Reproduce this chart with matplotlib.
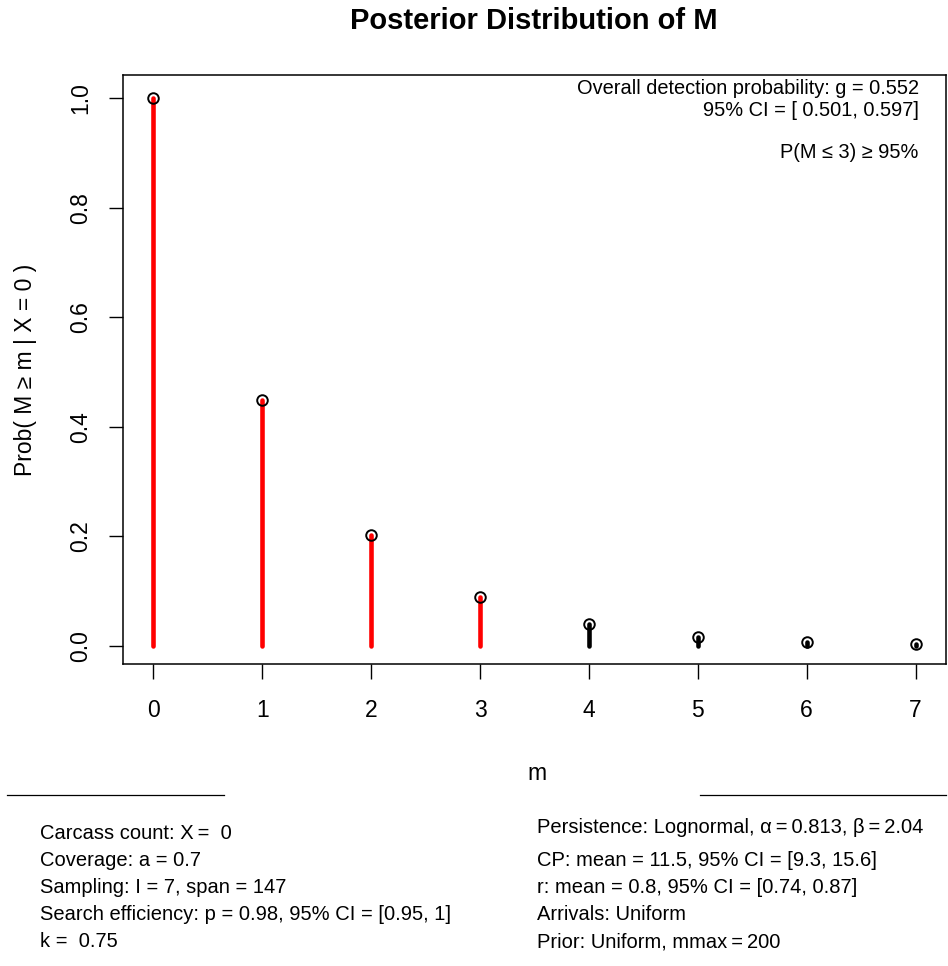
import matplotlib
matplotlib.use("Agg")
import matplotlib.pyplot as plt
from matplotlib.lines import Line2D

m_vals = [0, 1, 2, 3, 4, 5, 6, 7]
prob_ge = [1.0, 0.448, 0.202, 0.090, 0.040, 0.017, 0.008, 0.003]
red_upto = 3
x_ticks = [0, 1, 2, 3, 4, 5, 6, 7]
y_ticks = [0.0, 0.2, 0.4, 0.6, 0.8, 1.0]

title = "Posterior Distribution of M"
xlabel = "m"
ylabel = "Prob( M \u2265 m | X = 0 )"
annot_lines = ["Overall detection probability: g = 0.552",
               "95% CI = [ 0.501, 0.597]"]
annot_p = "P(M \u2264 3) \u2265 95%"
left_lines = ["Carcass count: X\u2009=  0",
              "Coverage: a = 0.7",
              "Sampling: I = 7, span = 147",
              "Search efficiency: p = 0.98, 95% CI = [0.95, 1]",
              "k =  0.75"]
right_lines = ["Persistence: Lognormal, \u03b1\u2009=\u20090.813, \u03b2\u2009=\u20092.04",
               "CP: mean = 11.5, 95% CI = [9.3, 15.6]",
               "r: mean = 0.8, 95% CI = [0.74, 0.87]",
               "Arrivals: Uniform",
               "Prior: Uniform, mmax\u2009=\u2009200"]

FONT = ['Liberation Sans', 'DejaVu Sans']
plt.rcParams['font.family'] = FONT

W, H = 948, 966
fig = plt.figure(figsize=(W / 100, H / 100), dpi=100)
ax = fig.add_axes([123 / W, 1 - 664 / H, (946 - 123) / W, (664 - 75) / H])

for m, p in zip(m_vals, prob_ge):
    col = 'red' if m <= red_upto else 'black'
    ax.plot([m, m], [0, p], color=col, lw=3.3, solid_capstyle='round', zorder=2)
ax.plot(m_vals, prob_ge, 'o', mfc='none', mec='black', ms=7.6, mew=1.4, zorder=3)

ax.set_xlim(-0.28, 7.28)
ax.set_ylim(-0.033, 1.042)
ax.set_xticks(x_ticks)
ax.set_xticklabels([str(v) for v in x_ticks], fontsize=16.5, family=FONT)
ax.set_yticks(y_ticks)
ax.set_yticklabels([f"{v:.1f}" for v in y_ticks], fontsize=16.5, rotation=90,
                   va='center', family=FONT)
ax.tick_params(axis='x', length=11, width=1, direction='out', pad=14)
ax.tick_params(axis='y', length=10, width=1, direction='out', pad=12)
for s in ax.spines.values():
    s.set_linewidth(1.1)

ax.set_ylabel(ylabel, fontsize=16.5, family=FONT)
ax.yaxis.set_label_coords((37 - 123) / (946 - 123), 0.5)
fig.text(537 / W, 1 - 780 / H, xlabel, ha='center', va='baseline', fontsize=16.5, family=FONT)

fig.text(534 / W, 1 - 29 / H, title, ha='center', va='baseline', fontsize=21,
         fontweight='bold', family=FONT)

ax.text(7.03, 1.018, annot_lines[0], ha='right', va='center', fontsize=14.4, family=FONT)
ax.text(7.03, 0.978, annot_lines[1], ha='right', va='center', fontsize=14.4, family=FONT)
ax.text(7.03, 0.900, annot_p, ha='right', va='center', fontsize=14.4, family=FONT)

fig.add_artist(Line2D([7 / W, 224 / W], [1 - 795 / H, 1 - 795 / H], color='black', lw=0.9))
fig.add_artist(Line2D([700 / W, 946 / W], [1 - 795 / H, 1 - 795 / H], color='black', lw=0.9))

for y, t in zip([839, 866, 893, 920, 947], left_lines):
    fig.text(40 / W, 1 - y / H, t, ha='left', va='baseline', fontsize=14.5, family=FONT)
for y, t in zip([833, 866, 893, 920, 947], right_lines):
    fig.text(537 / W, 1 - y / H, t, ha='left', va='baseline', fontsize=14.5, family=FONT)

fig.savefig("out.png", dpi=100)
